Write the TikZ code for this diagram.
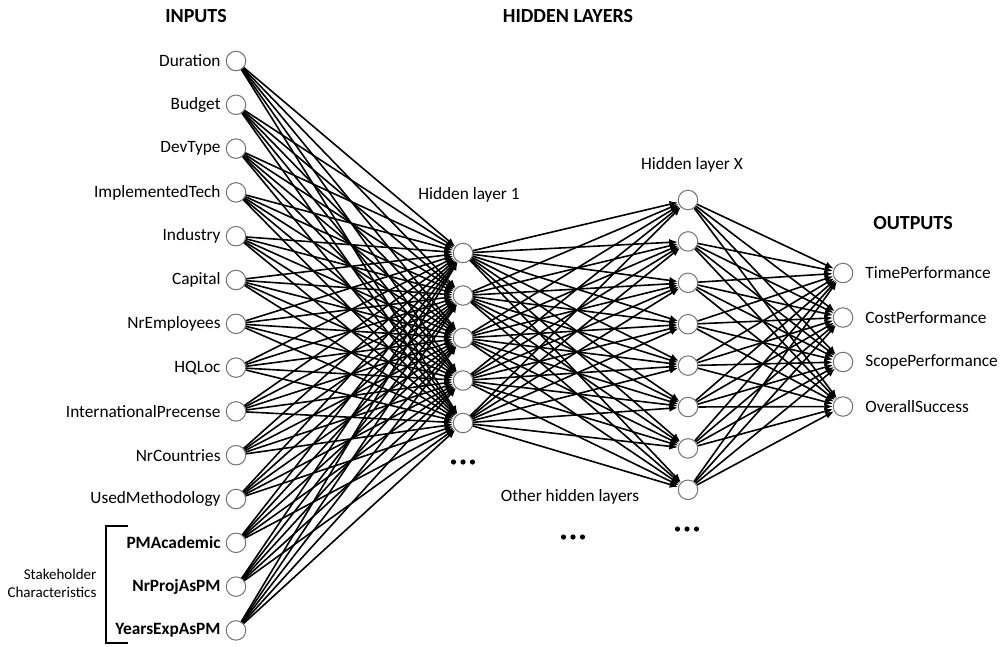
\documentclass[tikz,border=0pt]{standalone}
\usepackage{fontspec}
\setmainfont{Carlito}
\usetikzlibrary{arrows.meta,positioning}

\tikzset{
  neuron/.style={circle, draw=black!55, line width=1pt, minimum size=19.5pt, inner sep=0pt, fill=white},
  lbl/.style={font=\fontsize{17.3}{20}\selectfont, inner sep=0pt},
  ttl/.style={font=\fontsize{20}{22}\selectfont\bfseries, inner sep=0pt},
  small/.style={font=\fontsize{15}{18}\selectfont, inner sep=0pt, align=right},
  conn/.style={line width=1.6pt, -{Latex[length=8.5pt,width=7pt]}}
}

\begin{document}
\begin{tikzpicture}[x=1pt, y=-1pt]
\useasboundingbox (0,0) rectangle (1004,646);

% titles
\node[ttl] (tinputs) at (196,16) {INPUTS};
\node[ttl] (thidden) at (568,16) {HIDDEN LAYERS};
\node[ttl] (toutputs) at (913,223) {OUTPUTS};

% input layer
\foreach \name [count=\i] in {Duration, Budget, DevType, ImplementedTech, Industry, Capital,
    NrEmployees, HQLoc, InternationalPrecense, NrCountries, UsedMethodology,
    {\textbf{PMAcademic}}, {\textbf{NrProjAsPM}}, {\textbf{YearsExpAsPM}}} {
  \node[neuron] (in\i) at (236, {61+43.8*(\i-1)}) {};
  \node[lbl, left=5pt of in\i] (tin\i) {\name};
}

% hidden layer 1
\foreach \j in {1,...,5}
  \node[neuron] (ha\j) at (463, {253+42.5*(\j-1)}) {};
\node[lbl] (tha) at (469,195) {Hidden layer 1};

% hidden layer X
\foreach \k in {1,...,8}
  \node[neuron] (hx\k) at (688, {200+41.4*(\k-1)}) {};
\node[lbl] (thx) at (692,165) {Hidden layer X};

% output layer
\foreach \name [count=\m] in {TimePerformance, CostPerformance, ScopePerformance, OverallSuccess} {
  \node[neuron] (out\m) at (843, {273+44.5*(\m-1)}) {};
  \node[lbl, right=12pt of out\m] (tout\m) {\name};
}

% connections
\foreach \i in {1,...,14}
  \foreach \j in {1,...,5}
    \draw[conn] (in\i) -- (ha\j);
\foreach \j in {1,...,5}
  \foreach \k in {1,...,8}
    \draw[conn] (ha\j) -- (hx\k);
\foreach \k in {1,...,8}
  \foreach \m in {1,...,4}
    \draw[conn] (hx\k) -- (out\m);

% other layers
\node[lbl] (tother) at (570,497) {Other hidden layers};
\foreach \dx in {-9.5,0,9.5} {
  \fill (463+\dx,462) circle (2.6);
  \fill (573+\dx,537) circle (2.6);
  \fill (687+\dx,529) circle (2.6);
}

% stakeholder bracket
\draw[line width=1.4pt] (128,526) -- (106,526) -- (106,643) -- (128,643);
\node[small] (tstake) at (52,583) {Stakeholder\\Characteristics};

\end{tikzpicture}
\end{document}
